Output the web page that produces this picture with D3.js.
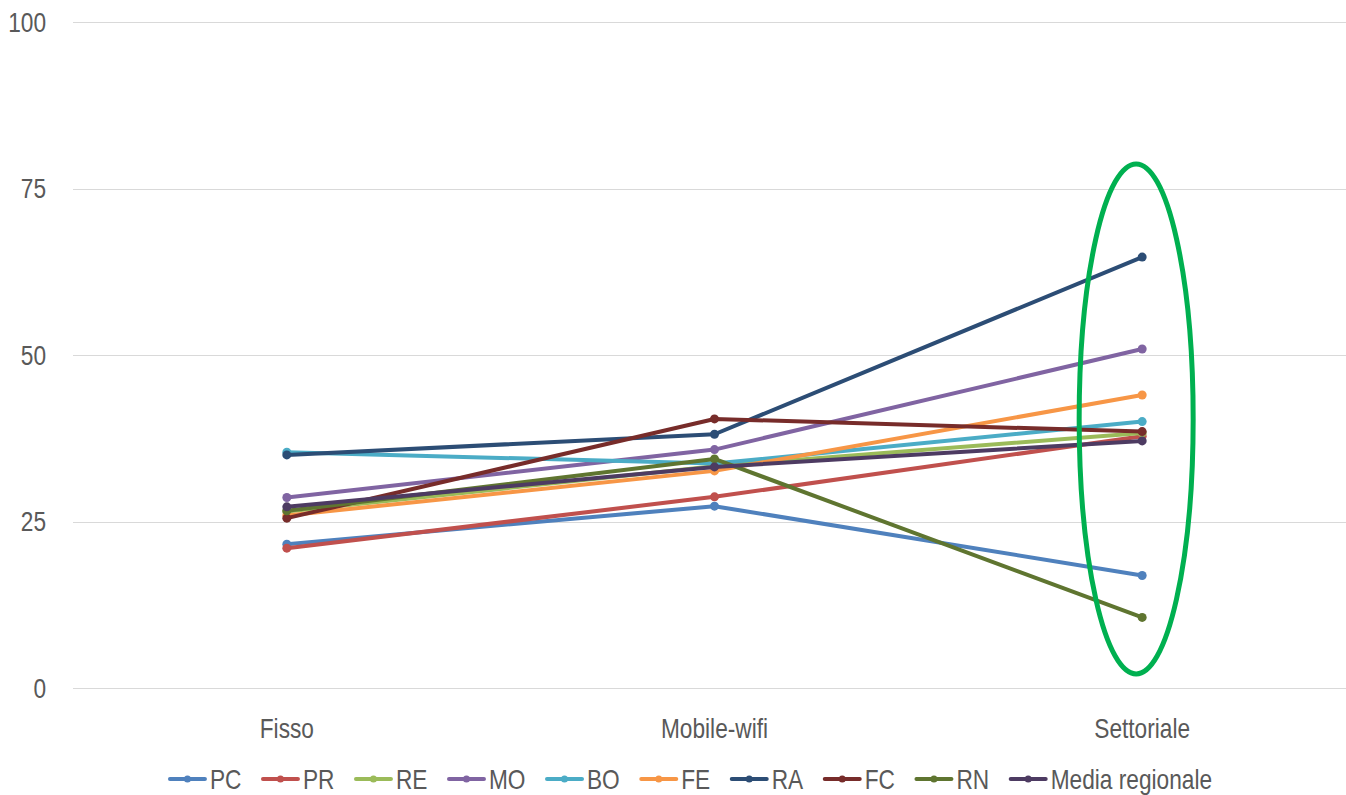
<!DOCTYPE html>
<html><head><meta charset="utf-8">
<script src="https://cdn.jsdelivr.net/npm/d3@7/dist/d3.min.js"></script>
<style>
html,body{margin:0;padding:0;background:#fff;}
svg{display:block;}
text{font-family:"Liberation Sans",Arial,sans-serif;fill:#595959;}
</style></head>
<body>
<svg id="chart" width="1346" height="795"></svg>
<script>
const categories = ["Fisso", "Mobile-wifi", "Settoriale"];
const seriesNames = ["PC", "PR", "RE", "MO", "BO", "FE", "RA", "FC", "RN", "Media regionale"];
const PC = [21.6, 27.3, 16.9];
const PR = [21.0, 28.7, 37.8];
const RE = [26.5, 33.3, 38.3];
const MO = [28.6, 35.8, 50.9];
const BO = [35.4, 33.7, 40.0];
const FE = [25.9, 32.6, 44.0];
const RA = [35.0, 38.1, 64.7];
const FC = [25.5, 40.4, 38.5];
const RN = [26.6, 34.4, 10.6];
const MEDIA = [27.2, 33.2, 37.1];
const seriesValues = [PC, PR, RE, MO, BO, FE, RA, FC, RN, MEDIA];
const colors = ["#4f81bd", "#c0504d", "#9bbb59", "#8064a2", "#4bacc6", "#f79646", "#2c4d75", "#772c2a", "#5f7530", "#4d3b62"];
const yTicks = [0, 25, 50, 75, 100];

(function () {
const svg = d3.select("#chart");
const pLeft = 73, pRight = 1356, pTop = 22, pBottom = 688;
const FS = 28, SX = 0.81;

const x = d3.scalePoint().domain(categories).range([pLeft, pRight]).padding(0.5);
const y = d3.scaleLinear().domain([0, 100]).range([pBottom, pTop]);

function label(g, txt, tx, ty, anchor) {
  return g.append("text")
    .attr("transform", `translate(${tx},${ty}) scale(${SX},1)`)
    .attr("text-anchor", anchor)
    .attr("dominant-baseline", "central")
    .style("font-size", FS + "px")
    .text(txt);
}

// gridlines
const grid = svg.append("g");
grid.selectAll("line").data(yTicks).join("line")
  .attr("x1", pLeft).attr("x2", 1346)
  .attr("y1", d => Math.round(y(d)) + 0.5).attr("y2", d => Math.round(y(d)) + 0.5)
  .attr("stroke", "#d9d9d9").attr("stroke-width", 1);

// y tick labels
const yl = svg.append("g");
yTicks.forEach(t => label(yl, String(t), 46, y(t), "end"));

// x labels
const xl = svg.append("g");
categories.forEach(c => label(xl, c, x(c), 728, "middle"));

// series
const line = d3.line().x((d, i) => x(categories[i])).y(d => y(d));
const sg = svg.append("g");
seriesValues.forEach((vals, si) => {
  const g = sg.append("g");
  g.append("path").attr("d", line(vals)).attr("fill", "none")
    .attr("stroke", colors[si]).attr("stroke-width", 4).attr("stroke-linejoin", "round").attr("stroke-linecap", "round");
  g.selectAll("circle").data(vals).join("circle")
    .attr("cx", (d, i) => x(categories[i])).attr("cy", d => y(d)).attr("r", 4.5)
    .attr("fill", colors[si]);
});

// ellipse highlight
svg.append("ellipse")
  .attr("cx", x("Settoriale") - 6).attr("cy", y(40.4)).attr("rx", 57).attr("ry", 255)
  .attr("fill", "none").attr("stroke", "#00b050").attr("stroke-width", 5);

// legend
const lg = svg.append("g");
const items = [];
let cx = 0;
const lineLen = 35, gapT = 5, gapI = 21.5, ly = 779;
seriesNames.forEach((n, i) => {
  const g = lg.append("g");
  g.append("line").attr("x1", 0).attr("x2", lineLen).attr("y1", 0).attr("y2", 0)
    .attr("stroke", colors[i]).attr("stroke-width", 4).attr("stroke-linecap", "round");
  g.append("circle").attr("cx", lineLen / 2).attr("cy", 0).attr("r", 3.5).attr("fill", colors[i]);
  const t = label(g, n, lineLen + gapT, 0, "start");
  const w = t.node().getComputedTextLength() * SX;
  items.push({ g, x: cx });
  cx += lineLen + gapT + w + gapI;
});
const total = cx - gapI;
const startX = 691 - total / 2;
items.forEach(it => it.g.attr("transform", `translate(${startX + it.x},${ly})`));
})();
</script>
</body></html>
